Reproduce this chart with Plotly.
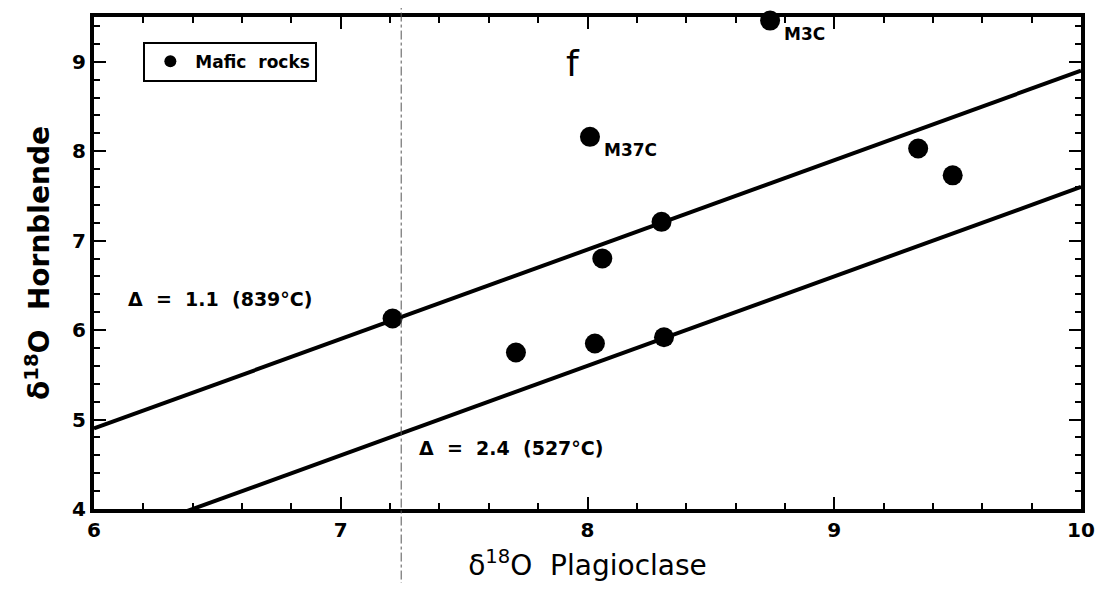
import numpy as np
import plotly.graph_objects as go

# delta18O plagioclase / hornblende, mafic rocks
plag = [7.21, 7.71, 8.01, 8.03, 8.06, 8.30, 8.31, 8.74, 9.34, 9.48]
hbl = [6.13, 5.75, 8.16, 5.85, 6.80, 7.21, 5.92, 9.46, 8.03, 7.73]
labels = ["", "", "M37C", "", "", "", "", "M3C", "", ""]

# isotherm lines: hbl = plag - delta
deltas = [1.1, 2.4]
delta_text = ["Δ  =  1.1  (839°C)", "Δ  =  2.4  (527°C)"]
line_x = np.array([6.0, 10.0])

FONT = "DejaVu Sans"

fig = go.Figure()

for d in deltas:
    fig.add_trace(go.Scatter(
        x=line_x, y=line_x - d, mode="lines",
        line=dict(color="black", width=4),
        showlegend=False, hoverinfo="skip",
    ))

fig.add_trace(go.Scatter(
    x=plag, y=hbl, mode="markers",
    marker=dict(color="black", size=20),
    name="<b>Mafic  rocks</b>",
    cliponaxis=False,
))

# sample names, only for the labelled points
for x, y, l in zip(plag, hbl, labels):
    if l:
        fig.add_annotation(x=x, y=y, text="<b>" + l + "</b>", showarrow=False,
                           xanchor="left", yanchor="middle", xshift=12, yshift=-13,
                           font=dict(family=FONT, size=17, color="black"))

# faint vertical fold line of the scan
fig.add_shape(type="line", xref="x", yref="paper", x0=7.245, x1=7.245,
              y0=-0.18, y1=1.04, line=dict(color="#555", width=1, dash="dashdot"))

fig.add_annotation(x=6.51, y=6.35, text="<b>" + delta_text[0] + "</b>", showarrow=False,
                   font=dict(family=FONT, size=19, color="black"))
fig.add_annotation(x=7.69, y=4.68, text="<b>" + delta_text[1] + "</b>", showarrow=False,
                   font=dict(family=FONT, size=19, color="black"))
fig.add_annotation(x=7.94, y=8.98, text="f", showarrow=False,
                   font=dict(family=FONT, size=36, color="black"))

axis_common = dict(
    showgrid=False, zeroline=False, showline=True, linecolor="black", linewidth=4,
    mirror="allticks", ticks="inside", ticklen=12, tickwidth=2, tickcolor="black",
    tickfont=dict(family=FONT, size=20, color="black"), automargin=False,
    tickprefix="<b>", ticksuffix="</b>", ticklabeloverflow="allow",
    minor=dict(ticks="inside", dtick=0.2, ticklen=6, tickwidth=2, tickcolor="black"),
)

# page body has an 8px margin; keep the figure inside the window (no scrollbars)
fig.update_layout(
    width=1087, height=575,
    margin=dict(l=86, r=14, t=9, b=74),
    paper_bgcolor="white", plot_bgcolor="white",
    font=dict(family=FONT, color="black"),
    xaxis=dict(range=[6, 10], dtick=1, **axis_common,
               title=dict(text="δ<sup>18</sup>O  Plagioclase",
                          font=dict(family=FONT, size=28))),
    yaxis=dict(range=[4, 9.5], dtick=1, **axis_common,
               title=dict(text="<b>δ<sup>18</sup>O  Hornblende</b>",
                          font=dict(family=FONT, size=28))),
    showlegend=True,
    legend=dict(x=0.05, y=0.95, xanchor="left", yanchor="top",
                bordercolor="black", borderwidth=2, bgcolor="white",
                font=dict(family=FONT, size=17), itemsizing="constant",
                itemwidth=40),
)

fig.write_html("out.html")
